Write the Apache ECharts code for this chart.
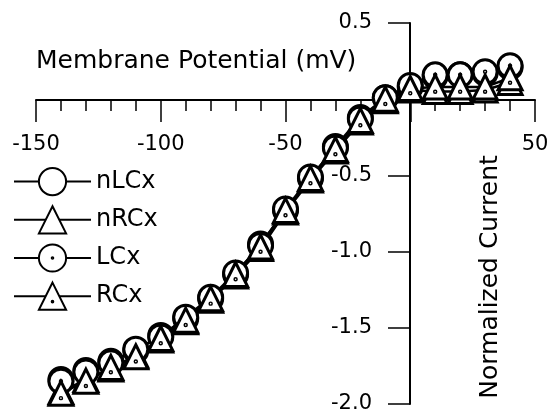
<!DOCTYPE html>
<html>
<head>
<meta charset="utf-8">
<script src="https://cdn.jsdelivr.net/npm/echarts@6/dist/echarts.min.js"></script>
<style>
    html, body { margin: 0; padding: 0; background: #fff; }
    #chart { width: 547px; height: 410px; }
</style>
</head>
<body>
<div id="chart"></div>
<script>
// membrane potential (mV)
const potentials = [-140, -130, -120, -110, -100, -90, -80, -70, -60, -50, -40, -30, -20, -10, 0, 10, 20, 30, 40]
// normalized current
const nLCx = [-1.84, -1.78, -1.72, -1.65, -1.55, -1.44, -1.31, -1.15, -0.95, -0.73, -0.52, -0.31, -0.12, 0.01, 0.08, 0.15, 0.16, 0.17, 0.21]
const nRCx = [-1.92, -1.84, -1.77, -1.68, -1.58, -1.46, -1.32, -1.16, -0.98, -0.74, -0.53, -0.34, -0.15, -0.01, 0.06, 0.05, 0.05, 0.06, 0.11]
const LCx = [-1.85, -1.79, -1.73, -1.64, -1.56, -1.43, -1.30, -1.14, -0.96, -0.72, -0.51, -0.32, -0.13, 0.01, 0.09, 0.16, 0.16, 0.18, 0.22]
const RCx = [-1.93, -1.85, -1.76, -1.69, -1.57, -1.45, -1.31, -1.15, -0.97, -0.73, -0.52, -0.33, -0.14, 0.00, 0.07, 0.08, 0.08, 0.08, 0.14]

const font = 'DejaVu Sans'
const xMin = -150, xMax = 50
const yMin = -2, yMax = 0.5

// 带中心点的符号
const dotCircle = 'path://M0,-10A10,10,0,1,1,0,10A10,10,0,1,1,0,-10ZM0,-0.6A0.6,0.6,0,1,1,0,0.6A0.6,0.6,0,1,1,0,-0.6Z'
const dotTriangle = 'path://M0,-10L10,10L-10,10ZM0,3.4A0.6,0.6,0,1,1,0,4.6A0.6,0.6,0,1,1,0,3.4Z'

function makeSeries(name, values, symbol) {
    return {
        name: name,
        type: 'line',
        xAxisIndex: 0,
        yAxisIndex: 0,
        data: potentials.map((v, i) => [v, values[i]]),
        symbol: symbol,
        symbolSize: 24,
        showAllSymbol: true,
        lineStyle: { color: '#000', width: 2.5 },
        itemStyle: { color: '#fff', borderColor: '#000', borderWidth: 3 },
        emphasis: { disabled: true }
    }
}

const axisLine = { show: true, onZero: false, lineStyle: { color: '#000', width: 2 } }
const axisTick = { show: true, inside: false, length: 22, lineStyle: { color: '#000', width: 1.5 } }
const labelStyle = { color: '#000', fontFamily: font, fontSize: 21 }

const chart = echarts.init(document.getElementById('chart'))
chart.setOption({
    animation: false,
    // grid 0: 数据区, grid 1: x 轴 (底边在 y=0), grid 2: y 轴 (左边在 x=0)
    grid: [
        { left: 36, right: 12, top: 23, bottom: 6, containLabel: false, outerBoundsMode: 'none' },
        { left: 36, right: 12, top: 23, height: 77, containLabel: false, outerBoundsMode: 'none' },
        { left: 410, right: 12, top: 23, bottom: 6, containLabel: false, outerBoundsMode: 'none' }
    ],
    legend: {
        orient: 'vertical',
        left: 13,
        top: 167,
        padding: 0,
        itemWidth: 77,
        itemHeight: 34,
        itemGap: 9,
        data: ['nLCx', 'nRCx', 'LCx', 'RCx'],
        textStyle: { color: '#000', fontFamily: font, fontSize: 24 }
    },
    xAxis: [
        { type: 'value', gridIndex: 0, min: xMin, max: xMax, show: false },
        {
            type: 'value',
            gridIndex: 1,
            position: 'bottom',
            min: xMin,
            max: xMax,
            interval: 50,
            axisLine: axisLine,
            axisTick: axisTick,
            minorTick: { show: true, splitNumber: 5, length: 11, lineStyle: { color: '#000', width: 1.5 } },
            axisLabel: Object.assign({ margin: 34, formatter: v => (v === 0 ? '' : String(v)) }, labelStyle),
            splitLine: { show: false }
        },
        { type: 'value', gridIndex: 2, min: 0, max: xMax, show: false }
    ],
    yAxis: [
        { type: 'value', gridIndex: 0, min: yMin, max: yMax, show: false },
        { type: 'value', gridIndex: 1, min: 0, max: yMax, show: false },
        {
            type: 'value',
            gridIndex: 2,
            position: 'left',
            min: yMin,
            max: yMax,
            interval: 0.5,
            axisLine: axisLine,
            axisTick: axisTick,
            axisLabel: Object.assign({ margin: 38, formatter: v => (v === 0 ? '' : v.toFixed(1)) }, labelStyle),
            splitLine: { show: false }
        }
    ],
    graphic: [
        {
            type: 'text',
            left: 36,
            top: 49,
            style: { text: 'Membrane Potential (mV)', fill: '#000', font: '25px "DejaVu Sans"' }
        },
        {
            type: 'text',
            x: 490,
            y: 277,
            rotation: Math.PI / 2,
            style: {
                text: 'Normalized Current',
                fill: '#000',
                font: '25px "DejaVu Sans"',
                align: 'center',
                verticalAlign: 'middle'
            }
        }
    ],
    series: [
        makeSeries('nLCx', nLCx, 'circle'),
        makeSeries('nRCx', nRCx, 'triangle'),
        makeSeries('LCx', LCx, dotCircle),
        makeSeries('RCx', RCx, dotTriangle)
    ]
})
</script>
</body>
</html>
